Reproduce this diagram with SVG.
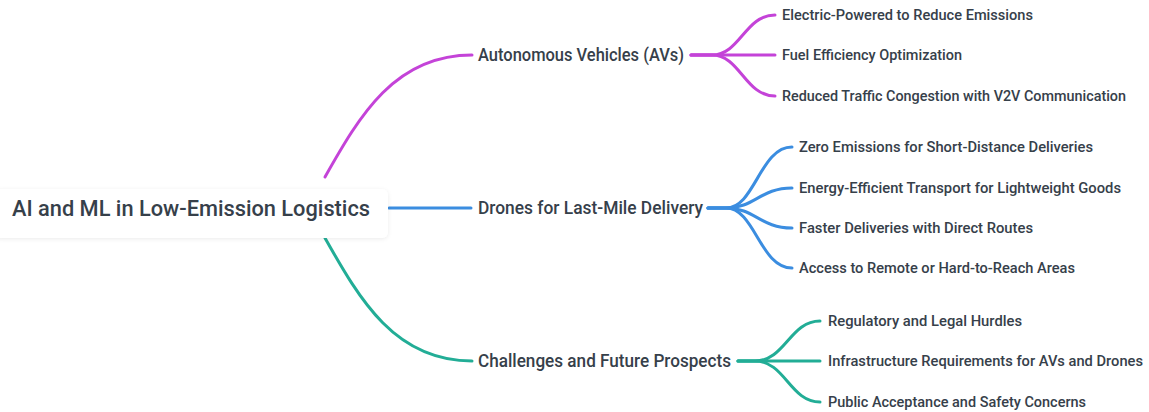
<svg xmlns="http://www.w3.org/2000/svg" width="1149" height="412" viewBox="0 0 1149 412">
<defs>
<filter id="sh" x="-10%" y="-40%" width="120%" height="180%">
<feDropShadow dx="0" dy="1" stdDeviation="2" flood-color="#000" flood-opacity="0.08"/>
</filter>
<style>
text{font-family:"Roboto","Liberation Sans",sans-serif;fill:#36404a;font-weight:500;}
.root{font-size:22px;}
.l1{font-size:17.5px;}
.l2{font-size:14.5px;}
.c{fill:none;stroke-width:3;stroke-linecap:round;}
.m{stroke:#c443d8;}
.b{stroke:#3b8de0;}
.t{stroke:#22ad96;}
</style>
</defs>
<rect width="1149" height="412" fill="#ffffff"/>
<g id="connectors">
<path class="c m" d="M325,177 C360,115 395,55 472,55"/>
<path class="c b" d="M389,208 H471"/>
<path class="c t" d="M325,238 C360,300 395,361 472,361"/>
<path class="c m" d="M691,55 H712 C740,55 745,15 775,15"/>
<path class="c m" d="M691,55 H775"/>
<path class="c m" d="M691,55 H712 C740,55 745,96 775,96"/>
<path class="c b" d="M708,208 H726 C755,208 760,147 792,147"/>
<path class="c b" d="M708,208 H726 C755,208 760,188 792,188"/>
<path class="c b" d="M708,208 H726 C755,208 760,228 792,228"/>
<path class="c b" d="M708,208 H726 C755,208 760,268 792,268"/>
<path class="c t" d="M738,361 H755 C785,361 790,321 820,321"/>
<path class="c t" d="M738,361 H820"/>
<path class="c t" d="M738,361 H755 C785,361 790,402 820,402"/>
</g>
<g id="root">
<rect x="-6" y="189" width="394" height="49" rx="6" fill="#ffffff" filter="url(#sh)"/>
<text class="root" x="12" y="216" textLength="358" lengthAdjust="spacingAndGlyphs">AI and ML in Low-Emission Logistics</text>
</g>
<g id="avs"><text class="l1" x="478" y="61" textLength="206" lengthAdjust="spacingAndGlyphs">Autonomous Vehicles (AVs)</text></g>
<g id="drones"><text class="l1" x="478" y="214" textLength="225" lengthAdjust="spacingAndGlyphs">Drones for Last-Mile Delivery</text></g>
<g id="challenges"><text class="l1" x="478" y="367" textLength="253" lengthAdjust="spacingAndGlyphs">Challenges and Future Prospects</text></g>
<g id="avs-1"><text class="l2" x="782" y="20" textLength="251" lengthAdjust="spacingAndGlyphs">Electric-Powered to Reduce Emissions</text></g>
<g id="avs-2"><text class="l2" x="782" y="60" textLength="180" lengthAdjust="spacingAndGlyphs">Fuel Efficiency Optimization</text></g>
<g id="avs-3"><text class="l2" x="782" y="101" textLength="344" lengthAdjust="spacingAndGlyphs">Reduced Traffic Congestion with V2V Communication</text></g>
<g id="drones-1"><text class="l2" x="799" y="152" textLength="294" lengthAdjust="spacingAndGlyphs">Zero Emissions for Short-Distance Deliveries</text></g>
<g id="drones-2"><text class="l2" x="799" y="193" textLength="322" lengthAdjust="spacingAndGlyphs">Energy-Efficient Transport for Lightweight Goods</text></g>
<g id="drones-3"><text class="l2" x="799" y="233" textLength="234" lengthAdjust="spacingAndGlyphs">Faster Deliveries with Direct Routes</text></g>
<g id="drones-4"><text class="l2" x="799" y="273" textLength="276" lengthAdjust="spacingAndGlyphs">Access to Remote or Hard-to-Reach Areas</text></g>
<g id="ch-1"><text class="l2" x="828" y="326" textLength="194" lengthAdjust="spacingAndGlyphs">Regulatory and Legal Hurdles</text></g>
<g id="ch-2"><text class="l2" x="828" y="366" textLength="315" lengthAdjust="spacingAndGlyphs">Infrastructure Requirements for AVs and Drones</text></g>
<g id="ch-3"><text class="l2" x="828" y="407" textLength="258" lengthAdjust="spacingAndGlyphs">Public Acceptance and Safety Concerns</text></g>
</svg>
